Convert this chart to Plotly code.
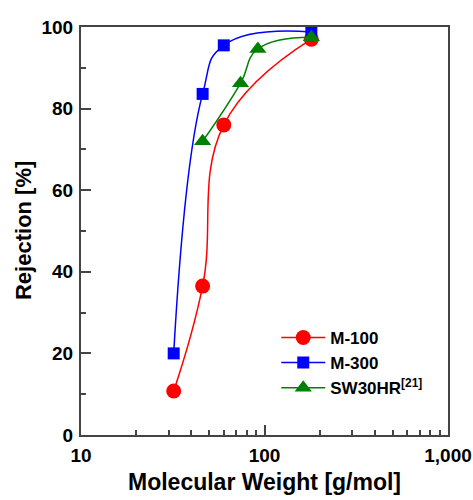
import plotly.graph_objects as go

mw_m100 = [32, 46, 60, 180]
rej_m100 = [10.8, 36.5, 76.0, 97.0]
mw_m300 = [32, 46, 60, 180]
rej_m300 = [20.0, 83.6, 95.5, 98.8]
mw_sw = [46, 74, 92, 180]
rej_sw = [72.0, 86.2, 94.6, 97.5]

x_tickvals = [10, 100, 1000]
x_ticktext = ["10", "100", "1,000"]
y_tickvals = [0, 20, 40, 60, 80, 100]

FONT = "Liberation Sans"

fig = go.Figure()
fig.add_trace(go.Scatter(x=mw_m100, y=rej_m100, name="M-100", mode="lines+markers",
                         line=dict(color="red", width=1.5, shape="spline", smoothing=1.2),
                         marker=dict(symbol="circle", size=15, color="red")))
fig.add_trace(go.Scatter(x=mw_m300, y=rej_m300, name="M-300", mode="lines+markers",
                         line=dict(color="blue", width=1.5, shape="spline", smoothing=1.3),
                         marker=dict(symbol="square", size=12, color="blue")))
fig.add_trace(go.Scatter(x=mw_sw, y=rej_sw, name="SW30HR<sup>[21]</sup>", mode="lines+markers",
                         line=dict(color="green", width=1.5, shape="spline", smoothing=1.3),
                         marker=dict(symbol="triangle-up", size=15, color="green")))

axis_common = dict(showline=True, linecolor="#444", linewidth=2, mirror=True,
                   ticks="inside", tickcolor="#444", tickwidth=1.5, ticklen=10,
                   showgrid=False, zeroline=False, automargin=False,
                   tickfont=dict(family=FONT, size=19, color="black", weight="bold"))

fig.update_xaxes(type="log", range=[1, 3], tickvals=x_tickvals, ticktext=x_ticktext,
                 ticklabelstandoff=2,
                 minor=dict(ticks="inside", ticklen=5, tickcolor="#444", tickwidth=1.5,
                            dtick="D1", showgrid=False),
                 **axis_common)
fig.update_yaxes(range=[0, 100], tickvals=y_tickvals,
                 ticklabelstandoff=2,
                 minor=dict(ticks="inside", ticklen=5, tickcolor="#444", tickwidth=1.5,
                            dtick=10, showgrid=False),
                 **axis_common)

title_font = dict(family=FONT, size=23, color="black", weight="bold")
fig.add_annotation(text="Molecular Weight [g/mol]", xref="paper", yref="paper",
                   x=0.5, y=-0.115, xanchor="center", yanchor="middle",
                   showarrow=False, font=title_font)
fig.add_annotation(text="Rejection [%]", xref="paper", yref="paper",
                   x=-0.158, y=0.5, xanchor="center", yanchor="middle", textangle=-90,
                   showarrow=False, font=dict(family=FONT, size=22, color="black", weight="bold"))

fig.update_layout(
    width=473, height=500,
    margin=dict(l=81, r=25, t=27, b=65),
    paper_bgcolor="white", plot_bgcolor="white",
    showlegend=True,
    legend=dict(x=0.532, y=0.282, xanchor="left", yanchor="top",
                bgcolor="rgba(0,0,0,0)", itemwidth=44, tracegroupgap=0,
                font=dict(family=FONT, size=17, color="black", weight="bold")),
)

fig.write_html("out.html")
